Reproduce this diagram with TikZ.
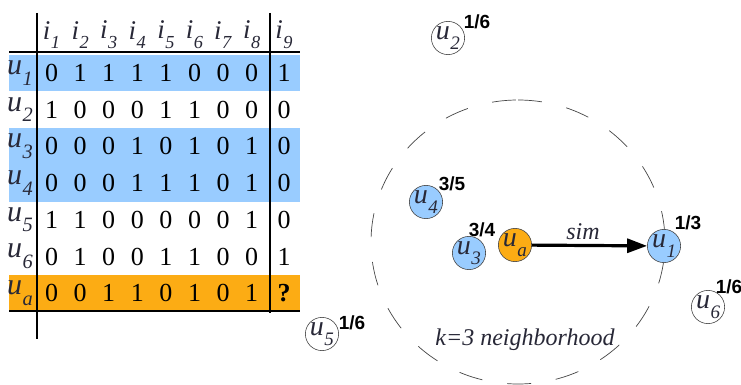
\documentclass[tikz,border=0pt]{standalone}
\usepackage{fontspec}
\usepackage{graphicx}
\setmainfont{Liberation Serif}
\newfontfamily\fracfont{Liberation Sans}
\usetikzlibrary{arrows.meta}

\definecolor{rowblue}{RGB}{153,204,255}
\definecolor{roworange}{RGB}{252,172,20}
\definecolor{ink}{RGB}{40,40,55}
\definecolor{ringgray}{RGB}{70,70,70}

% italic letter with an italic, lowered subscript
\newcommand{\lbl}[2]{\textit{#1}\kern0.5pt\raisebox{-0.36em}{\scalebox{0.68}{\textit{#2}}}}

\tikzset{
  cell/.style={font=\fontsize{26}{26}\selectfont, text=black, inner sep=0pt},
  rowlbl/.style={font=\fontsize{30}{30}\selectfont, text=ink, inner sep=0pt},
  collbl/.style={font=\fontsize{27}{27}\selectfont, text=ink, inner sep=0pt},
  rule/.style={line width=1.8pt, black},
  user/.style={circle, draw=ringgray, line width=0.6pt, minimum size=31pt,
               inner sep=0pt, text=ink, font=\fontsize{28}{28}\selectfont},
  frac/.style={font=\fracfont\bfseries\fontsize{19}{19}\selectfont, text=black, inner sep=0pt},
  note/.style={font=\itshape\fontsize{24}{24}\selectfont, text=ink, inner sep=0pt}
}

\begin{document}
\begin{tikzpicture}[x=1pt,y=-1pt]
\useasboundingbox (0,0) rectangle (741,385);
\fill[white] (0,0) rectangle (741,385);

% highlighted rows of the rating matrix
\fill[rowblue]   (9,54.7)  rectangle (300,91.3);
\fill[rowblue]   (9,128.1) rectangle (300,201.5);
\fill[roworange] (9,274.9) rectangle (300,311.5);

% column headers
\foreach \c in {1,...,9}{
  \pgfmathsetmacro{\cx}{\c<9 ? 51.5+28.6*(\c-1) : 284}
  \node[collbl] (h\c) at (\cx,35) {\lbl{i}{\c}};
}

% rows: label and entries
\foreach \r/\nm/\vals in {
  1/1/{0,1,1,1,1,0,0,0,1},
  2/2/{1,0,0,0,1,1,0,0,0},
  3/3/{0,0,0,1,0,1,0,1,0},
  4/4/{0,0,0,1,1,1,0,1,0},
  5/5/{1,1,0,0,0,0,0,1,0},
  6/6/{0,1,0,0,1,1,0,0,1},
  7/a/{0,0,1,1,0,1,0,1,{\textbf{?}}}}{
  \pgfmathsetmacro{\ry}{73+36.7*(\r-1)}
  \node[rowlbl] (r\r) at (20,\ry) {\lbl{u}{\nm}};
  \foreach \v [count=\c] in \vals {
    \pgfmathsetmacro{\cx}{\c<9 ? 51.5+28.6*(\c-1) : 284}
    \node[cell] (m\r-\c) at (\cx,\ry) {\v};
  }
}

% table rules
\draw[rule] (9,52) -- (300,52);
\draw[rule] (9,311) -- (300,311);
\draw[rule] (37,13) -- (37,339);
\draw[rule] (270,13) -- (270,313);

% neighbourhood ring, started at its top and run clockwise
\draw[ringgray, line width=0.7pt, dash pattern=on 24pt off 25pt]
  (518,100) arc[start angle=-90, end angle=270, x radius=147, y radius=142];

% users
\node[user, fill=white]      (u2) at (448,38)  {\lbl{u}{2}};
\node[user, fill=rowblue]    (u4) at (426,202) {\lbl{u}{4}};
\node[user, fill=rowblue]    (u3) at (469,253) {\lbl{u}{3}};
\node[user, fill=roworange]  (ua) at (515,245) {\lbl{u}{a}};
\node[user, fill=rowblue]    (u1) at (664,246) {\lbl{u}{1}};
\node[user, fill=white]      (u6) at (708,307) {\lbl{u}{6}};
\node[user, fill=white]      (u5) at (322,334) {\lbl{u}{5}};

% similarity values
\node[frac] (f2) at (477,22)  {1/6};
\node[frac] (f4) at (452,184) {3/5};
\node[frac] (f3) at (482,230) {3/4};
\node[frac] (f1) at (688,223) {1/3};
\node[frac] (f6) at (729,287) {1/6};
\node[frac] (f5) at (352,323) {1/6};

% nearest neighbour link
\draw[line width=3.2pt, -{Triangle[length=20pt,width=14pt]}] (ua) -- (u1);
\node[note] (sim) at (583,232) {sim};
\node[note] (knn) at (525,340) {k=3 neighborhood};
\end{tikzpicture}
\end{document}
